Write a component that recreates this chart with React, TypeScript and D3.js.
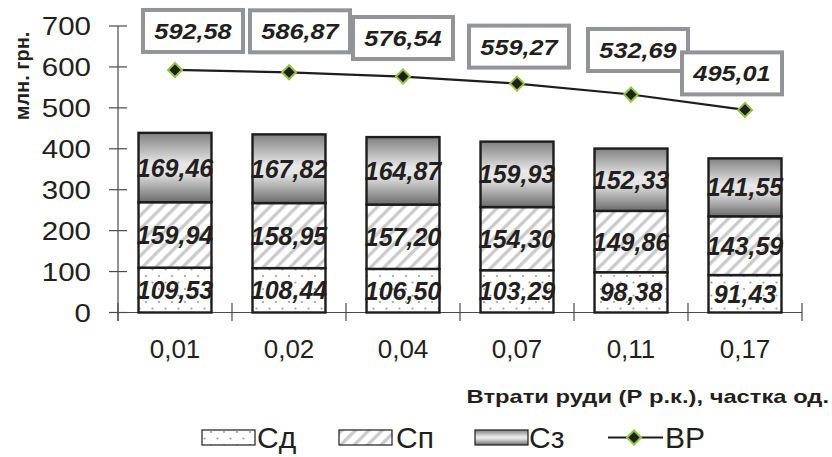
import React from "react";
import * as d3 from "d3";

// Ore-loss shares and the cost components per share (млн. грн.)
const categories = ["0,01", "0,02", "0,04", "0,07", "0,11", "0,17"];
const sd = [109.53, 108.44, 106.5, 103.29, 98.38, 91.43];
const sp = [159.94, 158.95, 157.2, 154.3, 149.86, 143.59];
const sz = [169.46, 167.82, 164.87, 159.93, 152.33, 141.55];
const vr = [592.58, 586.87, 576.54, 559.27, 532.69, 495.01];
const yTicks = [0, 100, 200, 300, 400, 500, 600, 700];

// Label box offsets (box centre relative to the ВР point)
const labelShift: [number, number][] = [
  [18, -39],
  [11, -41],
  [0, -38.5],
  [2, -37],
  [7, -44.5],
  [-13, -36.5],
];

const fmt = (v: number) => v.toFixed(2).replace(".", ",");
const FONT = "'Liberation Sans', Arial, sans-serif";
const INK = "#231f20";

type TProps = {
  x: number;
  y: number;
  sx?: number;
  rotate?: number;
  size: number;
  anchor?: "start" | "middle" | "end";
  bold?: boolean;
  italic?: boolean;
  children: React.ReactNode;
};

// Text placed at (x, y) with an optional horizontal stretch
function T({ x, y, sx = 1, rotate = 0, size, anchor = "start", bold, italic, children }: TProps) {
  return (
    <g transform={`translate(${x},${y}) rotate(${rotate}) scale(${sx},1)`}>
      <text
        textAnchor={anchor}
        fontFamily={FONT}
        fontSize={size}
        fontWeight={bold ? "bold" : "normal"}
        fontStyle={italic ? "italic" : "normal"}
        fill={INK}
      >
        {children}
      </text>
    </g>
  );
}

export default function App() {
  const W = 832;
  const H = 457;
  const x0 = 118;
  const x1 = 802;
  const y = d3.scaleLinear().domain([0, 700]).range([312.5, 26]);
  const x = d3.scaleBand<string>().domain(categories).range([x0, x1]).paddingInner(0.36).paddingOuter(0.18);
  const band = (x1 - x0) / categories.length;
  const cx = (i: number) => (x(categories[i]) as number) + x.bandwidth() / 2;

  const stacks = d3
    .stack<number>()
    .keys(["sd", "sp", "sz"])
    .value((i, k) => (k === "sd" ? sd[i] : k === "sp" ? sp[i] : sz[i]))(categories.map((_, i) => i));
  const fills = ["url(#dots)", "url(#stripes)", "url(#grad)"];

  const line = d3
    .line<number>()
    .x((_, i) => cx(i))
    .y((d) => y(d));

  const diamond = "M0,-7L7,0L0,7L-7,0Z";

  return (
    <svg width={W} height={H} style={{ position: "absolute", left: 0, top: 0 }}>
      <defs>
        <pattern id="dots" width="13" height="13" patternUnits="userSpaceOnUse">
          <rect width="13" height="13" fill="#fff" />
          <circle cx="3" cy="3" r="1.1" fill="#a0a0a0" />
          <circle cx="9.5" cy="9.5" r="1.1" fill="#a0a0a0" />
        </pattern>
        <pattern id="stripes" width="9.5" height="9.5" patternUnits="userSpaceOnUse" patternTransform="rotate(45)">
          <rect width="9.5" height="9.5" fill="#fff" />
          <rect x="3" width="3.2" height="9.5" fill="#c9c9c9" />
        </pattern>
        <linearGradient id="grad" x1="0" y1="0" x2="0" y2="1">
          <stop offset="0" stopColor="#808080" />
          <stop offset="0.45" stopColor="#e8e8e8" />
          <stop offset="0.58" stopColor="#e2e2e2" />
          <stop offset="1" stopColor="#6c6c6c" />
        </linearGradient>
      </defs>
      <rect width={W} height={H} fill="#fff" />

      {/* y axis */}
      <line x1={x0} x2={x0} y1={y(700)} y2={321} stroke="#4a4a4a" strokeWidth={1.2} />
      {yTicks.map((t) => (
        <g key={t}>
          <line x1={109} x2={127} y1={y(t)} y2={y(t)} stroke="#4a4a4a" strokeWidth={1.2} />
          <T x={91} y={y(t) + 9} size={25} sx={1.18} anchor="end">
            {t}
          </T>
        </g>
      ))}
      <T x={29} y={76} rotate={-90} size={21} sx={0.95} anchor="middle" bold>
        млн. грн.
      </T>

      {/* x axis */}
      <line x1={x0} x2={x1} y1={y(0)} y2={y(0)} stroke="#4a4a4a" strokeWidth={1.2} />
      {d3.range(categories.length + 1).map((i) => (
        <line key={i} x1={x0 + band * i} x2={x0 + band * i} y1={303} y2={321} stroke="#4a4a4a" strokeWidth={1.2} />
      ))}
      {categories.map((c, i) => (
        <T key={c} x={cx(i)} y={358} size={26} sx={1.0} anchor="middle">
          {c}
        </T>
      ))}
      <T x={829} y={403} size={19} sx={1.25} anchor="end" bold>
        Втрати руди (Р р.к.), частка од.
      </T>

      {/* stacked bars */}
      {stacks.map((s, si) =>
        s.map((d, i) => (
          <g key={`${si}-${i}`}>
            <rect
              x={x(categories[i])}
              y={y(d[1])}
              width={x.bandwidth()}
              height={y(d[0]) - y(d[1])}
              fill={fills[si]}
              stroke="#1d1d1b"
              strokeWidth={2.4}
            />
            <T x={cx(i)} y={(y(d[0]) + y(d[1])) / 2 + 9} size={25} anchor="middle" bold italic>
              {fmt(d[1] - d[0])}
            </T>
          </g>
        ))
      )}

      {/* ВР line */}
      <path d={line(vr) as string} fill="none" stroke="#1d1d1b" strokeWidth={2.2} />
      {vr.map((v, i) => (
        <path key={i} d={diamond} transform={`translate(${cx(i)},${y(v)})`} fill={INK} stroke="#8dc63f" strokeWidth={2} />
      ))}
      {vr.map((v, i) => {
        const bx = cx(i) + labelShift[i][0];
        const by = y(v) + labelShift[i][1];
        return (
          <g key={`l${i}`}>
            <rect x={bx - 50} y={by - 21} width={100} height={42} fill="#fff" stroke="#929497" strokeWidth={4} />
            <T x={bx} y={by + 8} size={22} sx={1.15} anchor="middle" bold italic>
              {fmt(v)}
            </T>
          </g>
        );
      })}

      {/* legend */}
      <rect x={202} y={430} width={53} height={15} fill="url(#dots)" stroke="#1d1d1b" strokeWidth={1.2} />
      <T x={257} y={448} size={30}>Сд</T>
      <rect x={339} y={430} width={53} height={15} fill="url(#stripes)" stroke="#1d1d1b" strokeWidth={1.2} />
      <T x={396} y={448} size={30}>Сп</T>
      <rect x={475} y={430} width={53} height={15} fill="url(#grad)" stroke="#1d1d1b" strokeWidth={1.2} />
      <T x={529} y={448} size={30}>Сз</T>
      <line x1={608} x2={663} y1={437.5} y2={437.5} stroke="#1d1d1b" strokeWidth={2.2} />
      <path d={diamond} transform="translate(634,437.5)" fill={INK} stroke="#8dc63f" strokeWidth={2} />
      <T x={665} y={448} size={30}>ВР</T>
    </svg>
  );
}
